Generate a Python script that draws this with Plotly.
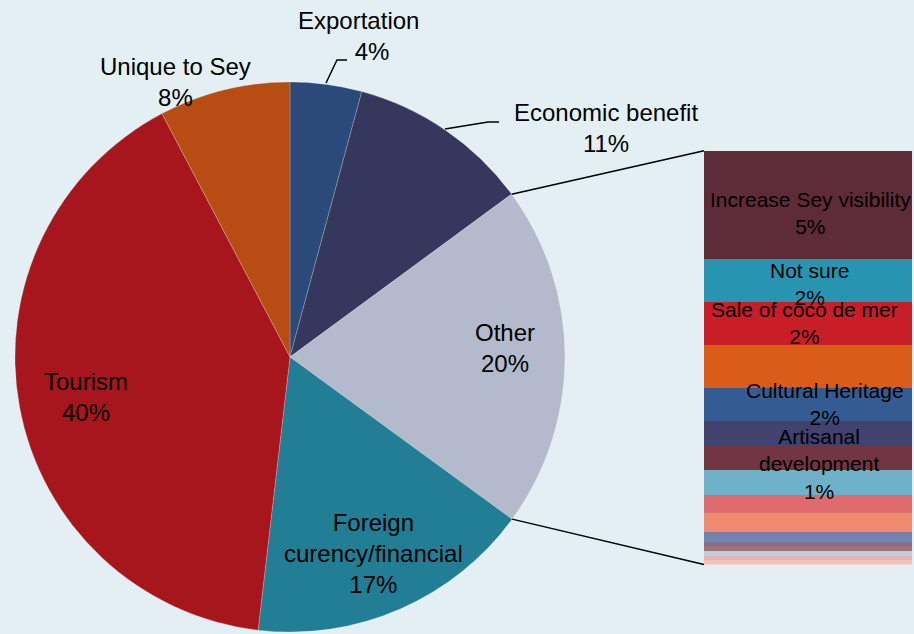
import plotly.graph_objects as go
import math

# =========================
# data
# =========================
pie_labels = ["Exportation", "Economic benefit", "Other",
              "Foreign<br>curency/financial", "Tourism", "Unique to Sey"]
pie_values = [4.2, 10.7, 20.1, 16.8, 40.4, 7.7]
pie_colors = ["#2B4A7A", "#36375C", "#B3BACC", "#217E95", "#A8161D", "#B84D14"]

# breakdown of "Other", listed top to bottom
bar_labels = ["Increase Sey visibility", "Not sure", "Sale of coco de mer", "",
              "Cultural Heritage", "", "Artisanal<br>development", "",
              "", "", "", "", "", "", "", ""]
bar_values = [5.25, 2.1, 2.05, 2.1, 1.6, 1.2, 1.2, 1.2,
              0.85, 0.93, 0.48, 0.23, 0.22, 0.23, 0.2, 0.24]
bar_colors = ["#5E2B38", "#2795B2", "#C91D27", "#DB5B19", "#345C93", "#41426E",
              "#713544", "#6EB1C9", "#E06B6E", "#EE8A6E", "#7284AD", "#867089",
              "#A07474", "#B2D4DF", "#EBB0B2", "#F5C0B8"]

W, H = 914, 634
FONT = "Arial, Liberation Sans, sans-serif"

# pie geometry in pixels
CX, CY, R = 290, 357, 275
# bar geometry in pixels
BX0, BX1, BY_TOP, BY_BOT = 704, 912, 150.7, 564.5


def px(x, y):
    return x / W, 1 - y / H


fig = go.Figure()

fig.add_trace(go.Pie(
    labels=pie_labels, values=pie_values,
    marker=dict(colors=pie_colors, line=dict(color="rgba(255,255,255,0.35)", width=0.6)),
    sort=False, direction="clockwise", rotation=0,
    textinfo="none", hoverinfo="label+percent", showlegend=False,
    domain=dict(x=[(CX - R) / W, (CX + R) / W], y=[1 - (CY + R) / H, 1 - (CY - R) / H]),
))

# stacked bar (bottom first)
bar_total = sum(bar_values)
for lab, val, col in reversed(list(zip(bar_labels, bar_values, bar_colors))):
    fig.add_trace(go.Bar(
        x=[0], y=[val], width=1, marker=dict(color=col, line=dict(width=0)),
        name=lab.replace("<br>", " ") or "n/a", showlegend=False,
        xaxis="x", yaxis="y", hoverinfo="name+y",
    ))

# =========================
# labels
# =========================
pie_total = sum(pie_values)
pct = [round(v / pie_total * 100) for v in pie_values]
pie_label_pos = [(358, 36), (606, 128), (505, 348), (373, 553), (86, 397), (175, 82)]
pct_pad = {0: "&nbsp;" * 4}
annotations = []
for i, (lab, p, (x, y)) in enumerate(zip(pie_labels, pct, pie_label_pos)):
    ax, ay = px(x, y)
    annotations.append(dict(
        x=ax, y=ay, xref="paper", yref="paper", showarrow=False,
        text=f"{lab}<br>{pct_pad.get(i, '')}{p}%",
        font=dict(family=FONT, size=24, color="black"),
        xanchor="center", yanchor="middle",
    ))

bar_shift = {0: (2, -8), 1: (1, -3), 2: (-4, 0), 4: (17, 0), 6: (11, -6)}
top = bar_total
for i, (lab, val) in enumerate(zip(bar_labels, bar_values)):
    mid = top - val / 2
    top -= val
    if not lab:
        continue
    dx, dy = bar_shift.get(i, (0, 0))
    annotations.append(dict(
        x=0, y=mid, xref="x", yref="y", showarrow=False,
        text=f"{lab}<br>{round(val / pie_total * 100)}%",
        font=dict(family=FONT, size=21, color="black"),
        xshift=dx, yshift=dy,
    ))

# =========================
# connector + leader lines
# =========================
shapes = []
start = sum(pie_values[:2]) / pie_total * 2 * math.pi
end = sum(pie_values[:3]) / pie_total * 2 * math.pi
for ang, by in [(start, BY_TOP), (end, BY_BOT)]:
    x0, y0 = px(CX + R * math.sin(ang), CY - R * math.cos(ang))
    x1, y1 = px(BX0, by)
    shapes.append(dict(type="line", xref="paper", yref="paper",
                       x0=x0, y0=y0, x1=x1, y1=y1,
                       line=dict(color="black", width=1.5)))

for pts in [[(326, 83), (337, 60), (347, 60)], [(445, 129), (488, 122), (499, 122)]]:
    path = " ".join(("M" if k == 0 else "L") + " %.5f %.5f" % px(*p) for k, p in enumerate(pts))
    shapes.append(dict(type="path", xref="paper", yref="paper", path=path,
                       line=dict(color="black", width=1.5)))

fig.update_layout(
    width=W, height=H,
    margin=dict(l=0, r=0, t=0, b=0),
    paper_bgcolor="#E3EFF2", plot_bgcolor="rgba(0,0,0,0)",
    barmode="stack", bargap=0,
    xaxis=dict(domain=[BX0 / W, BX1 / W], range=[-0.5, 0.5], visible=False, fixedrange=True),
    yaxis=dict(domain=[1 - BY_BOT / H, 1 - BY_TOP / H], range=[0, bar_total], visible=False, fixedrange=True),
    annotations=annotations, shapes=shapes,
    font=dict(family=FONT),
)

fig.write_html("out.html", config={"displayModeBar": False},
               post_script="document.body.style.margin='0';")
